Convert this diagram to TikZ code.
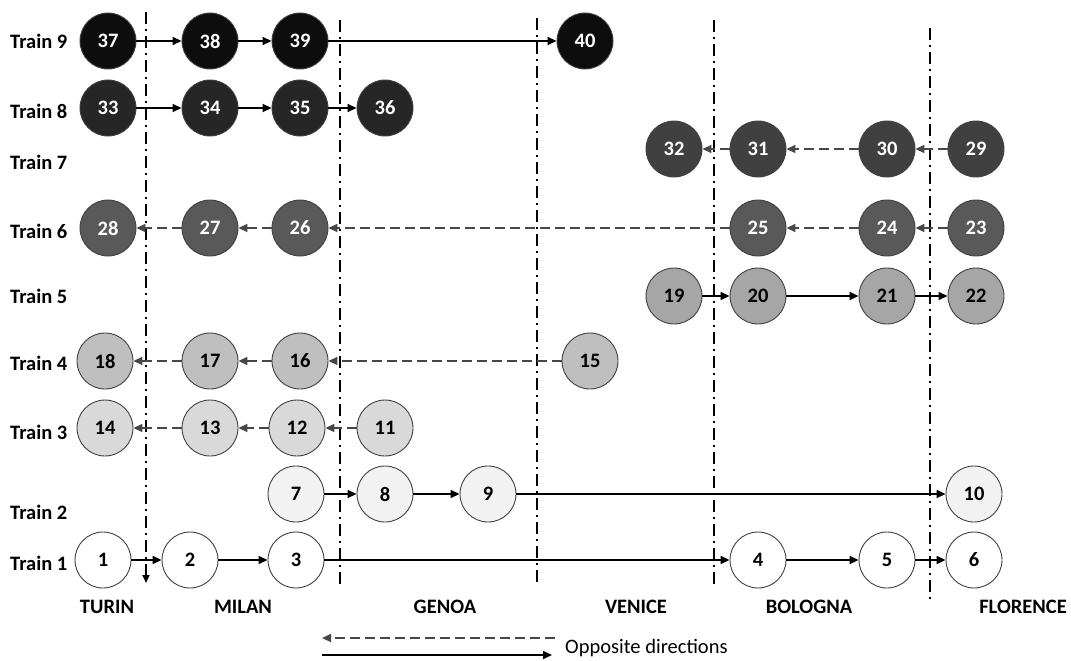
\documentclass[tikz,border=0pt]{standalone}
\usepackage{fontspec}
\setmainfont{Carlito}
\usetikzlibrary{arrows.meta}
\definecolor{cT9}{HTML}{0D0D0D}
\definecolor{cT8}{HTML}{262626}
\definecolor{cT7}{HTML}{404040}
\definecolor{cT6}{HTML}{595959}
\definecolor{cT5}{HTML}{A6A6A6}
\definecolor{cT4}{HTML}{BFBFBF}
\definecolor{cT3}{HTML}{D9D9D9}
\definecolor{cT2}{HTML}{F2F2F2}
\definecolor{cT1}{HTML}{FFFFFF}
\definecolor{rim}{HTML}{404040}
\begin{document}
\begin{tikzpicture}[x=1pt,y=-1pt,
  font=\fontsize{20.5}{24}\selectfont,
  stop/.style={circle,draw=rim,line width=0.9pt,minimum size=56pt,inner sep=0pt,font=\fontsize{20.5}{24}\selectfont\bfseries},
  darkstop/.style={stop,text=white},
  lightstop/.style={stop,text=black},
  trainlabel/.style={anchor=west,font=\fontsize{20.5}{24}\selectfont\bfseries,inner sep=0pt},
  citylabel/.style={font=\fontsize{20.5}{24}\selectfont\bfseries,inner sep=0pt},
  border/.style={line width=2.6pt,dash pattern=on 12pt off 5pt on 2pt off 5pt},
  fwd/.style={line width=1.7pt,-{Triangle[length=9pt,width=8pt]}},
  back/.style={line width=1.8pt,draw=black!72,dash pattern=on 10pt off 5pt,-{Triangle[length=9pt,width=8pt]}}
]
\useasboundingbox (0,0) rectangle (1071,661);

% city borders
\draw[border,-{Triangle[length=8pt,width=7pt]}] (146,12) -- (146,583);
\draw[border] (340,20) -- (340,587);
\draw[border] (537,18) -- (537,586);
\draw[border] (714,20) -- (714,586);
\draw[border] (930,28) -- (930,600);

% train labels
\node[trainlabel] (l9) at (10,41) {Train 9};
\node[trainlabel] (l8) at (10,111) {Train 8};
\node[trainlabel] (l7) at (10,162) {Train 7};
\node[trainlabel] (l6) at (10,231) {Train 6};
\node[trainlabel] (l5) at (10,296) {Train 5};
\node[trainlabel] (l4) at (10,363) {Train 4};
\node[trainlabel] (l3) at (10,432) {Train 3};
\node[trainlabel] (l2) at (10,512) {Train 2};
\node[trainlabel] (l1) at (10,563) {Train 1};

% stops
\foreach \n/\x in {37/108,38/210,39/300,40/585}
  \node[darkstop,fill=cT9] (s\n) at (\x,41) {\n};
\foreach \n/\x in {33/108,34/210,35/300,36/385}
  \node[darkstop,fill=cT8] (s\n) at (\x,108) {\n};
\foreach \n/\x in {32/674,31/758,30/887,29/976}
  \node[darkstop,fill=cT7] (s\n) at (\x,149) {\n};
\foreach \n/\x in {28/108,27/210,26/300,25/758,24/887,23/976}
  \node[darkstop,fill=cT6] (s\n) at (\x,228) {\n};
\foreach \n/\x in {19/674,20/758,21/887,22/976}
  \node[lightstop,fill=cT5] (s\n) at (\x,296) {\n};
\foreach \n/\x in {18/105,17/210,16/300,15/590}
  \node[lightstop,fill=cT4] (s\n) at (\x,361) {\n};
\foreach \n/\x in {14/105,13/210,12/297,11/385}
  \node[lightstop,fill=cT3] (s\n) at (\x,428) {\n};
\foreach \n/\x in {7/296,8/385,9/488,10/974}
  \node[lightstop,fill=cT2] (s\n) at (\x,494) {\n};
\foreach \n/\x in {1/103,2/190,3/296,4/758,5/887,6/974}
  \node[lightstop,fill=cT1] (s\n) at (\x,560) {\n};

% forward runs
\foreach \a/\b in {37/38,38/39,39/40,33/34,34/35,35/36,19/20,20/21,21/22,7/8,8/9,9/10,1/2,2/3,3/4,4/5,5/6}
  \draw[fwd] (s\a) -- (s\b);
% opposite runs
\foreach \a/\b in {29/30,30/31,31/32,23/24,24/25,25/26,26/27,27/28,15/16,16/17,17/18,11/12,12/13,13/14}
  \draw[back] (s\a) -- (s\b);

% cities
\node[citylabel] (turin) at (107,607) {TURIN};
\node[citylabel] (milan) at (243,607) {MILAN};
\node[citylabel] (genoa) at (445,607) {GENOA};
\node[citylabel] (venice) at (636,607) {VENICE};
\node[citylabel] (bologna) at (809,607) {BOLOGNA};
\node[citylabel,anchor=east] (florence) at (1067,607) {FLORENCE};

% legend
\coordinate (lgA) at (555,638);
\coordinate (lgB) at (322,638);
\coordinate (lgC) at (322,655);
\coordinate (lgD) at (552,655);
\draw[back] (lgA) -- (lgB);
\draw[fwd] (lgC) -- (lgD);
\node[anchor=west,inner sep=0pt] (legtext) at (565,648) {Opposite directions};
\end{tikzpicture}
\end{document}
